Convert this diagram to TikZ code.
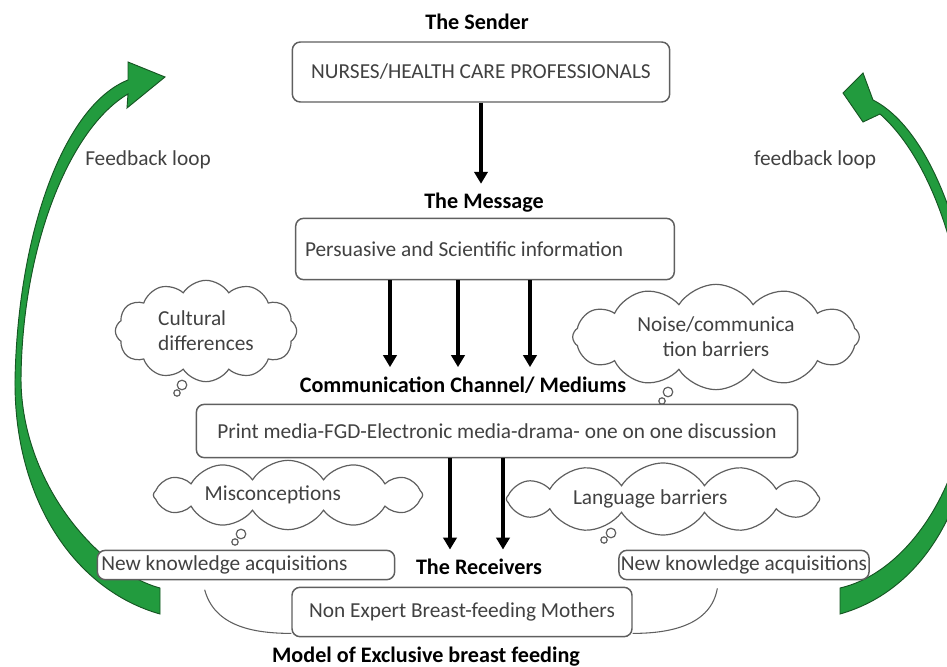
\documentclass[tikz,border=0pt]{standalone}
\usepackage{fontspec}
\setmainfont{Carlito}
\usepackage{tikz}
\usetikzlibrary{shapes.symbols, arrows.meta, positioning}
\definecolor{loopgreen}{RGB}{34,155,62}
\definecolor{loopedge}{RGB}{22,85,35}
\definecolor{inkgray}{RGB}{65,65,65}
\definecolor{framegray}{RGB}{95,95,95}

\begin{document}
\begin{tikzpicture}[x=0.75pt, y=-0.75pt, font=\fontsize{16}{19}\selectfont,
  box/.style={draw=framegray, fill=white, line width=1.1pt, rounded corners=6pt, text=inkgray, inner sep=2pt},
  head/.style={font=\fontsize{16.6}{19}\selectfont\bfseries, inner sep=2pt},
  thought/.style={cloud, cloud puffs=12, cloud puff arc=115, cloud ignores aspect, draw=framegray,
    line width=0.9pt, text=inkgray, align=center, inner sep=0pt},
  puff/.style={draw=framegray, fill=white, line width=0.9pt},
  flow/.style={-{Triangle[length=9pt, width=10pt]}, line width=2.8pt, shorten >=5pt},
  link/.style={draw=framegray, line width=0.8pt},
  feedback/.style={fill=loopgreen, draw=loopedge, line width=0.7pt}]
\clip (0,0) rectangle (947,667);

\filldraw[feedback] (128,80) .. controls (65,105) and (18,230) .. (15,380)
  .. controls (14,500) and (75,590) .. (160,614) -- (160,588)
  .. controls (100,572) and (22,485) .. (21,380)
  .. controls (22,245) and (70,128) .. (128,94) -- (127,108) -- (165,77) -- (128,62) -- cycle;
\filldraw[feedback] (873,100) .. controls (932,130) and (976,250) .. (977,380)
  .. controls (976,500) and (925,590) .. (840,614) -- (840,588)
  .. controls (910,572) and (968,480) .. (969,380)
  .. controls (968,265) and (932,160) .. (880,114) -- (863,122) -- (843,93) -- (863,73) -- cycle;

\node[box, minimum width=283pt, minimum height=45pt] (sender) at (481,72) {NURSES/HEALTH CARE PROFESSIONALS};
\node[head] (senderlbl) at (477,22) {The Sender};
\node[head] (msglbl) at (484,203) {The Message};
\node[box, inner xsep=7pt, text width=270pt, align=flush left, minimum height=46pt] (msg) at (485,249) {Persuasive and Scientific information};
\node[head] (chanlbl) at (463,385) {Communication Channel/ Mediums};
\node[box, minimum width=451pt, minimum height=40pt] (chan) at (497,431) {Print media-FGD-Electronic media-drama- one on one discussion};
\node[head] (recvlbl) at (479,567) {The Receivers};
\node[box, inner sep=0pt, inner xsep=3pt, text width=217pt, align=flush left, minimum height=22pt] (lknow) at (246,565) {New knowledge acquisitions};
\node[box, inner sep=0pt, inner xsep=1.5pt, minimum height=22pt] (rknow) at (744,565) {New knowledge acquisitions};
\node[box, minimum width=255pt, minimum height=37pt] (mothers) at (462,612) {Non Expert Breast-feeding Mothers};
\node[head] (modellbl) at (426,657) {Model of Exclusive breast feeding};

\node[text=inkgray] (fbleft) at (148,160) {Feedback loop};
\node[text=inkgray] (fbright) at (815,160) {feedback loop};

\node[thought, align=flush left, minimum width=136pt, minimum height=76pt] (cult) at (206,331) {Cultural\\differences};
\node[thought, minimum width=215pt, minimum height=79pt] (noise) at (716,337) {Noise/communica\\tion barriers};
\node[thought, text width=125pt, align=flush left, minimum width=202pt, minimum height=52pt] (misc) at (288,495) {Misconceptions};
\node[thought, text width=135pt, align=flush left, minimum width=235pt, minimum height=54pt] (lang) at (663,499) {Language barriers};
\foreach \cl/\ax/\ay/\bx/\by in {cult/-24/54/-29/62, noise/-48/55/-54/64, misc/-47/39/-53/47, lang/-52/34/-59/41}
{
  \draw[puff] ([shift={(\ax,\ay)}]\cl.center) circle (3.6pt);
  \draw[puff] ([shift={(\bx,\by)}]\cl.center) circle (2.4pt);
}

\draw[flow] (sender.south) -- (sender.south |- msglbl.north);
\foreach \dx in {-95,-27,45}
  \draw[flow] (msg.south) ++(\dx,0) coordinate (top) -- (top |- chanlbl.north);
\foreach \dx in {-47,6}
  \draw[flow] (chan.south) ++(\dx,0) coordinate (top) -- (top |- recvlbl.north);

\draw[link] ([xshift=-31pt,yshift=-7pt]lknow.south) to[out=-75, in=180] ([yshift=3pt]mothers.south west);
\draw[link] ([xshift=-20pt,yshift=-6pt]rknow.south) to[out=-100, in=0] ([yshift=3pt]mothers.south east);
\end{tikzpicture}
\end{document}
